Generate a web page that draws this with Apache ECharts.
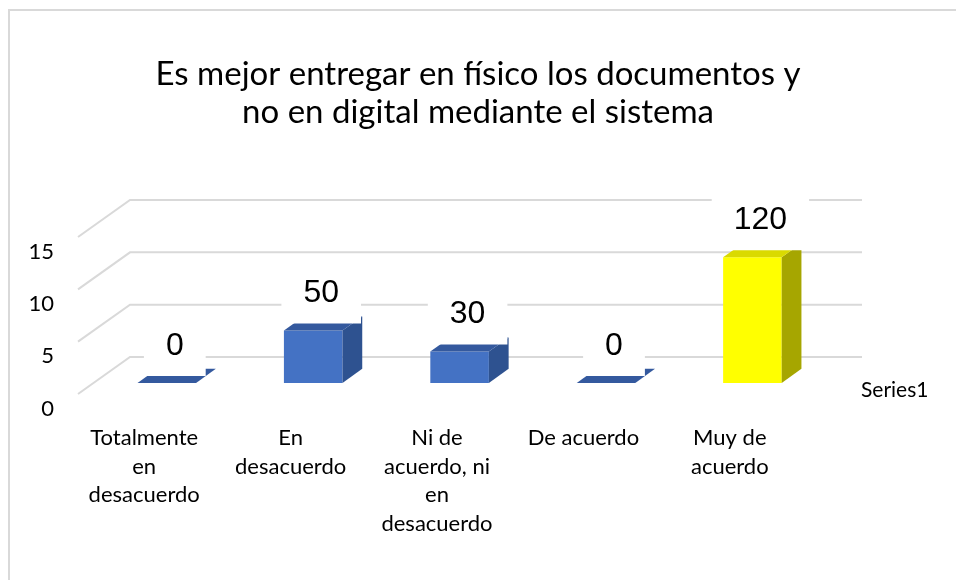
<!DOCTYPE html>
<html>
<head>
<meta charset="utf-8">
<script src="https://cdn.jsdelivr.net/npm/echarts@6/dist/echarts.min.js"></script>
<style>
    html, body { margin: 0; padding: 0; background: #fff; }
    #chart { width: 956px; height: 580px; }
</style>
</head>
<body>
<div id="chart"></div>
<script>
// datos
const titleText = 'Es mejor entregar en físico los documentos y\nno en digital mediante el sistema';
const categories = [
    'Totalmente\nen\ndesacuerdo',
    'En\ndesacuerdo',
    'Ni de\nacuerdo, ni\nen\ndesacuerdo',
    'De acuerdo',
    'Muy de\nacuerdo'
];
const values = [0, 5, 3, 0, 12];
const labelText = ['0', '50', '30', '0', '120'];
const yTicks = [0, 5, 10, 15];
const seriesName = 'Series1';

// colores de cada barra: [frente, lado, arriba]
const blue = ['#4472C4', '#2E5290', '#34599E'];
const yellow = ['#FFFF00', '#A6A600', '#DADA00'];
const barShades = [blue, blue, blue, blue, yellow];

// proyección 3D (profundidad del suelo)
const DX = 52, DY = -37;
const F0 = 0.3, F1 = 0.68; // profundidad frontal / trasera de la barra

const font = 'Lato';

const myChart = echarts.init(document.getElementById('chart'));

const renderGrid = (params, api) => {
    const cs = params.coordSys;
    const y = api.coord([0, api.value(1)])[1];
    return {
        type: 'polyline',
        shape: {
            points: [
                [cs.x, y],
                [cs.x + DX, y + DY],
                [cs.x + cs.width + DX, y + DY]
            ]
        },
        style: { stroke: '#D9D9D9', lineWidth: 2, fill: 'none' },
        silent: true
    };
};

const renderBar = (params, api) => {
    const idx = params.dataIndex;
    const i = api.value(0);
    const v = api.value(1);
    const base = api.coord([i, 0]);
    const top = api.coord([i, v]);
    const w = api.size([1, 0])[0] * 0.4;
    const fx = DX * F0, fy = DY * F0;
    const bx = DX * (F1 - F0), by = DY * (F1 - F0);
    const l = base[0] - w / 2 + fx;
    const r = base[0] + w / 2 + fx;
    const yb = base[1] + fy;
    const yt = top[1] + fy;
    const c = barShades[idx];
    const children = [];
    if (yb - yt > 0.5) {
        children.push({
            type: 'polygon',
            shape: { points: [[l, yt], [r, yt], [r, yb], [l, yb]] },
            style: { fill: c[0] }
        });
        children.push({
            type: 'polygon',
            shape: { points: [[r, yt], [r, yb], [r + bx, yb + by], [r + bx, yt + by]] },
            style: { fill: c[1] }
        });
    }
    children.push({
        type: 'polygon',
        shape: { points: [[l, yt], [r, yt], [r + bx, yt + by], [l + bx, yt + by]] },
        style: { fill: c[2] }
    });
    // etiqueta con recuadro blanco
    children.push({
        type: 'text',
        x: (l + r) / 2 + 8,
        y: yt - 37,
        z2: 10,
        style: {
            text: labelText[idx],
            font: '32px "Liberation Sans"',
            fill: '#000',
            backgroundColor: '#fff',
            padding: [14, 22],
            align: 'center',
            verticalAlign: 'middle'
        }
    });
    return { type: 'group', children: children };
};

const option = {
    animation: false,
    backgroundColor: '#fff',
    graphic: [{
        type: 'rect',
        shape: { x: 9, y: 10, width: 1000, height: 1000 },
        style: { fill: 'none', stroke: '#D9D9D9', lineWidth: 2 },
        silent: true
    }],
    title: {
        text: titleText,
        left: 'center',
        top: 50,
        textStyle: {
            fontFamily: font,
            fontSize: 33,
            fontWeight: 'normal',
            color: '#000',
            lineHeight: 38
        }
    },
    legend: {
        data: [seriesName],
        left: 851,
        top: 375,
        itemWidth: 0,
        itemHeight: 0,
        textStyle: { fontFamily: font, fontSize: 21, color: '#000' }
    },
    grid: {
        left: 78,
        right: 146,
        top: 237,
        bottom: 186
    },
    xAxis: {
        type: 'category',
        data: categories,
        axisLine: { show: false },
        axisTick: { show: false },
        splitLine: { show: false },
        axisLabel: {
            interval: 0,
            margin: 30,
            fontFamily: font,
            fontSize: 22,
            lineHeight: 28.5,
            color: '#000',
            padding: [0, 14, 0, 0]
        }
    },
    yAxis: {
        type: 'value',
        min: 0,
        max: 15,
        interval: 5,
        axisLine: { show: false },
        axisTick: { show: false },
        splitLine: { show: false },
        axisLabel: {
            margin: 24,
            fontFamily: font,
            fontSize: 22,
            color: '#000',
            verticalAlign: 'top',
            lineHeight: 29
        }
    },
    series: [
        {
            name: 'grid',
            type: 'custom',
            z: 1,
            silent: true,
            renderItem: renderGrid,
            data: yTicks.map(t => [0, t])
        },
        {
            name: seriesName,
            type: 'custom',
            z: 3,
            renderItem: renderBar,
            itemStyle: { color: blue[0] },
            data: values.map((v, i) => [i, v])
        }
    ]
};

myChart.setOption(option);
window.addEventListener('resize', () => {
    myChart.resize();
});
</script>
</body>
</html>
